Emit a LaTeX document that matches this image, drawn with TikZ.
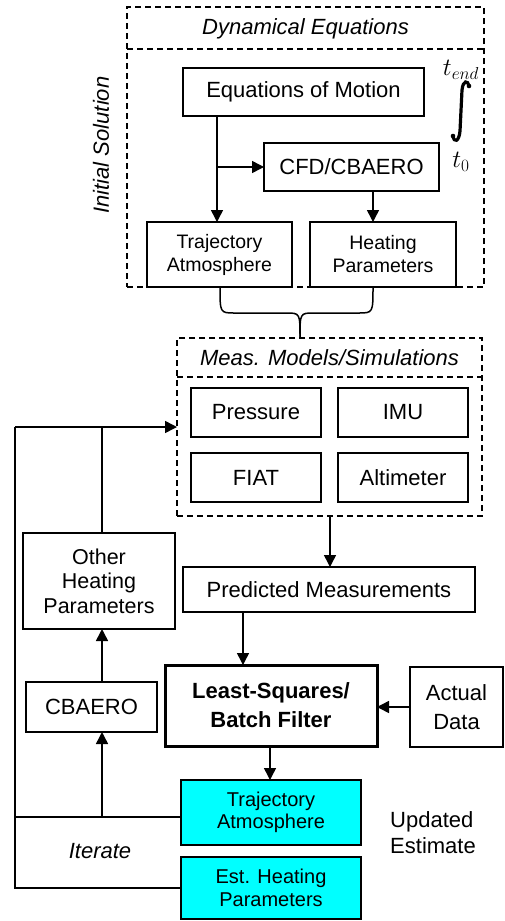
\documentclass[tikz,border=0pt]{standalone}
\usepackage{fontspec}
\setmainfont{Liberation Sans}
\usetikzlibrary{arrows.meta}
\definecolor{cyanfill}{RGB}{0,255,255}
\begin{document}
\begin{tikzpicture}[x=1pt,y=-1pt,
  every node/.style={font=\fontsize{22}{25}\selectfont},
  box/.style={draw,line width=1.5pt,inner sep=0pt,outer sep=0pt,align=center},
  dbox/.style={draw,line width=1.5pt,dash pattern=on 6pt off 4pt,inner sep=0pt,outer sep=0pt},
  cbox/.style={box,fill=cyanfill},
  arr/.style={line width=1.5pt,-{Triangle[length=12pt,width=12pt]}},
  ln/.style={line width=1.5pt},
  small/.style={font=\fontsize{19.5}{23}\selectfont}]
\useasboundingbox (0,0) rectangle (505,921);
% dashed containers
\node[dbox,minimum width=357pt,minimum height=280pt] (dyn) at (305.5,147) {};
\draw[dbox] (127,49) -- (484,49);
\node[font=\fontsize{22}{25}\selectfont\itshape] (dyntitle) at (305.5,29) {Dynamical Equations};
\node[font=\fontsize{22}{25}\selectfont\itshape,rotate=90] (init) at (101,145) {Initial Solution};
\node[dbox,minimum width=305pt,minimum height=178pt] (meas) at (329.5,427) {};
\draw[dbox] (177,377) -- (482,377);
\node[font=\fontsize{22}{25}\selectfont\itshape] (meastitle) at (329.5,358) {Meas. Models/Simulations};
% integral
\node[font=\fontsize{24}{24}\selectfont,inner sep=0pt] (tend) at (461,70) {$t_{end}$};
\draw[line width=3.2pt,line cap=round] (453,136) .. controls (454,143) and (459,142) .. (460,131) -- (462,90) .. controls (463,80) and (468,80) .. (469,86);
\fill (453,136) circle (2.3pt);
\fill (469,86) circle (2.3pt);
\node[font=\fontsize{24}{24}\selectfont,inner sep=0pt] (t0) at (461,162) {$t_0$};
% boxes
\node[box,minimum width=241pt,minimum height=48pt] (eom) at (303.5,92) {Equations of Motion};
\node[box,minimum width=175pt,minimum height=48pt] (cfd) at (351.5,167) {CFD/CBAERO};
\node[box,small,minimum width=145pt,minimum height=65pt] (traj1) at (219.5,254.5) {Trajectory\\Atmosphere};
\node[box,small,minimum width=146pt,minimum height=65pt] (heat1) at (383,254.5) {Heating\\Parameters};
\node[box,minimum width=130pt,minimum height=49pt] (press) at (256,412.5) {Pressure};
\node[box,minimum width=130pt,minimum height=49pt] (imu) at (403,412.5) {IMU};
\node[box,minimum width=130pt,minimum height=49pt] (fiat) at (256,477.5) {FIAT};
\node[box,minimum width=130pt,minimum height=49pt] (alt) at (403,477.5) {Altimeter};
\node[box,font=\fontsize{21.5}{24.5}\selectfont,minimum width=152pt,minimum height=96pt] (other) at (99,581) {Other\\Heating\\Parameters};
\node[box,minimum width=292pt,minimum height=45pt] (pred) at (329,589.5) {Predicted Measurements};
\node[box,line width=3pt,font=\fontsize{22}{29}\selectfont\bfseries,minimum width=212pt,minimum height=81pt] (ls) at (271,705.5) {Least-Squares/\\Batch Filter};
\node[box,font=\fontsize{22}{29}\selectfont,minimum width=93pt,minimum height=80pt] (act) at (456.5,707) {Actual\\Data};
\node[box,minimum width=131pt,minimum height=50pt] (cba) at (91.5,707) {CBAERO};
\node[cbox,font=\fontsize{20}{22.5}\selectfont,minimum width=180pt,minimum height=65pt] (traj2) at (271,812.5) {Trajectory\\Atmosphere};
\node[cbox,font=\fontsize{20}{23}\selectfont,minimum width=180pt,minimum height=62pt] (est) at (271,888) {Est. Heating\\Parameters};
\node[align=left,font=\fontsize{22}{26}\selectfont] (upd) at (433,833) {Updated\\Estimate};
\node[font=\fontsize{22}{25}\selectfont\itshape] (iter) at (100,851) {Iterate};
% helper coordinates
\coordinate (xa) at (217,0);
\coordinate (xb) at (373,0);
\coordinate (xc) at (330,0);
\coordinate (xd) at (243,0);
\coordinate (xe) at (270,0);
\coordinate (xf) at (102,0);
% connectors top
\draw[arr] (xa |- eom.south) -- (xa |- traj1.north);
\draw[arr] (xa |- cfd.west) -- (cfd.west);
\draw[arr] (xb |- cfd.south) -- (xb |- heat1.north);
% brace
\coordinate (bl) at (220,287);
\coordinate (br) at (373,287);
\coordinate (btip) at (300,338);
\draw[ln] (bl) .. controls (220,313) .. (235,313) -- (286,313) .. controls (300,313) .. (btip);
\draw[ln] (br) .. controls (373,313) .. (358,313) -- (314,313) .. controls (300,313) .. (btip);
% middle
\draw[arr] (xc |- meas.south) -- (xc |- pred.north);
\draw[arr] (xd |- pred.south) -- (xd |- ls.north);
\draw[arr] (act.west) -- (act.west -| ls.east);
\draw[arr] (xe |- ls.south) -- (xe |- traj2.north);
% feedback loop
\coordinate (fa) at (15,817);
\coordinate (fb) at (15,888);
\coordinate (fc) at (15,427);
\coordinate (fd) at (102,817);
\coordinate (fe) at (102,427);
\draw[ln] (fa -| traj2.west) -- (fa);
\draw[ln] (est.west) -- (fb) -- (fc);
\draw[arr] (fc) -- (meas.west);
\draw[arr] (fd) -- (xf |- cba.south);
\draw[arr] (xf |- cba.north) -- (xf |- other.south);
\draw[ln] (xf |- other.north) -- (fe);
\end{tikzpicture}
\end{document}
